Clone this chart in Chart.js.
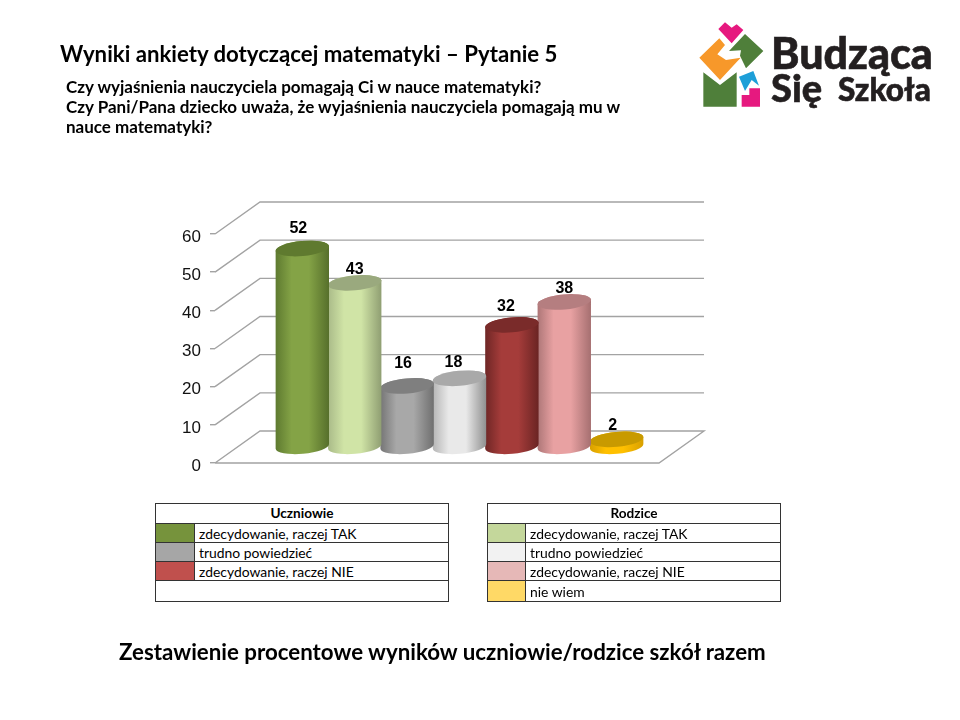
<!DOCTYPE html>
<html lang="pl">
<head>
<meta charset="utf-8">
<title>Wyniki ankiety dotyczącej matematyki</title>
<script src="https://cdn.jsdelivr.net/npm/chart.js@4"></script>
<style>
html,body{margin:0;padding:0;background:#fff;width:960px;height:720px;overflow:hidden;font-family:Lato,"Open Sans",sans-serif;color:#000}
#c{position:absolute;left:0;top:0}
.t{position:absolute;white-space:nowrap;font-weight:700}
#title{left:60px;top:41px;font-size:22.2px;line-height:26px}
#q{left:66px;top:77px;font-size:17px;line-height:20px}
#foot{left:119px;top:637px;font-size:22.3px;line-height:30px}
table{position:absolute;top:503px;width:294px;border-collapse:collapse;table-layout:fixed;font-size:13.9px;background:#fff}
td,th{border:1px solid #333;padding:0;height:18px;line-height:17px;overflow:hidden;white-space:nowrap}
th{font-size:13.6px;font-weight:700;height:19px}
td.l{padding-left:4px}
td.e{height:20px}
#logo{position:absolute;left:690px;top:15px;width:250px;height:100px}
.b{position:absolute;color:#231f20;font-weight:900;white-space:nowrap;font-family:Lato,sans-serif;-webkit-text-stroke:.6px #231f20}
</style>
</head>
<body>
<canvas id="c" width="960" height="720"></canvas>
<div class="t" id="title">Wyniki ankiety dotyczącej matematyki – Pytanie 5</div>
<div class="t" id="q">Czy wyjaśnienia nauczyciela pomagają Ci w nauce matematyki?<br>Czy Pani/Pana dziecko uważa, że wyjaśnienia nauczyciela pomagają mu w<br>nauce matematyki?</div>
<div class="t" id="foot">Zestawienie procentowe wyników uczniowie/rodzice szkół razem</div>

<table style="left:155px">
<colgroup><col style="width:39px"><col></colgroup>
<tr><th colspan="2">Uczniowie</th></tr>
<tr><td style="background:#76933c"></td><td class="l">zdecydowanie, raczej TAK</td></tr>
<tr><td style="background:#a6a6a6"></td><td class="l">trudno powiedzieć</td></tr>
<tr><td style="background:#c0504d"></td><td class="l">zdecydowanie, raczej NIE</td></tr>
<tr><td class="e" colspan="2"></td></tr>
</table>
<table style="left:487px">
<colgroup><col style="width:38px"><col></colgroup>
<tr><th colspan="2">Rodzice</th></tr>
<tr><td style="background:#c4d79b"></td><td class="l">zdecydowanie, raczej TAK</td></tr>
<tr><td style="background:#f2f2f2"></td><td class="l">trudno powiedzieć</td></tr>
<tr><td style="background:#e6b8b7"></td><td class="l">zdecydowanie, raczej NIE</td></tr>
<tr><td class="e" style="background:#ffd966"></td><td class="e l">nie wiem</td></tr>
</table>

<svg id="logo" viewBox="0 0 750 300">
<polygon fill="#e6197f" points="85,42 105,22 125,38 140,28 160,45 125,85"/>
<polygon fill="#4f7f3a" points="117,108 165,57 220,108 168,160 150,122 153,106"/>
<polygon fill="#f7982a" points="28,128 88,70 105,90 82,118 108,135 152,128 90,195"/>
<polygon fill="#4f7f3a" points="40,172 90,210 140,172 140,275 40,275"/>
<polygon fill="#1e9fd8" points="147,185 190,168 207,212 185,195 165,228"/>
<polygon fill="#e6197f" points="155,275 155,240 178,240 178,220 210,220 210,275"/>
</svg>
<div class="b" style="left:771px;top:28px;font-size:43px;line-height:50px">Budząca</div>
<div class="b" style="left:771px;top:66px;font-size:38px;line-height:42px">Się</div>
<div class="b" style="left:838px;top:66px;font-size:31.5px;line-height:42px;padding-top:2px">Szkoła</div>

<script>
const categories = ['Wyniki'];
const seriesNames = ['Uczniowie: zdecydowanie, raczej TAK','Rodzice: zdecydowanie, raczej TAK','Uczniowie: trudno powiedzieć','Rodzice: trudno powiedzieć','Uczniowie: zdecydowanie, raczej NIE','Rodzice: zdecydowanie, raczej NIE','Rodzice: nie wiem'];
const seriesValues = [52, 43, 16, 18, 32, 38, 2];
const yTicks = [0, 10, 20, 30, 40, 50, 60];

const bodyMid  = ['#84a346','#d0e4a6','#a8a8a8','#e9e9e9','#a53c3a','#e8a1a2','#ffc000'];
const bodyLeft = ['#5e7a30','#a9ba88','#757575','#b5b5b5','#6e2625','#ad7677','#d8a000'];
const bodyRight= ['#566f2b','#8f9e72','#6f6f6f','#8f8f8f','#6a2423','#a56f70','#d8a000'];
const topFill  = ['#5f7a2f','#9aa97e','#7f7f7f','#a9a9a9','#7a2b2a','#b57e80','#c89a00'];
const labelNudgeX = [-4, 0, -4, -6, -6, 0, -4];
const labelNudgeY = [-20, -13, -22, -16, -18, -13, -14];

const DEPTH_X = 45, DEPTH_Y = 32, RY = 7.5, TILT = -0.09, GRID = '#a3a3a3';

const walls = {
  id: 'walls',
  beforeDatasetsDraw(chart) {
    const {ctx, scales: {y}, chartArea: a} = chart;
    ctx.save();
    ctx.strokeStyle = GRID; ctx.lineWidth = 1.4;
    yTicks.forEach(v => {
      const p = y.getPixelForValue(v);
      ctx.beginPath();
      ctx.moveTo(a.left, p);
      ctx.lineTo(a.left + DEPTH_X, p - DEPTH_Y);
      ctx.lineTo(a.right + DEPTH_X, p - DEPTH_Y);
      if (v === 0) { ctx.lineTo(a.right, p); ctx.lineTo(a.left, p); }
      ctx.stroke();
    });
    ctx.restore();
  }
};

const cylinders = {
  id: 'cylinders',
  beforeDatasetDraw(chart, args) {
    const i = args.index, bar = chart.getDatasetMeta(i).data[0], ctx = chart.ctx;
    const cx = bar.x + DEPTH_X / 2, topY = bar.y - DEPTH_Y / 2, botY = bar.base - DEPTH_Y / 2;
    const rx = bar.width / 2 + 0.6;
    const g = ctx.createLinearGradient(cx - rx, 0, cx + rx, 0);
    g.addColorStop(0, bodyLeft[i]); g.addColorStop(0.3, bodyMid[i]);
    g.addColorStop(0.62, bodyMid[i]); g.addColorStop(1, bodyRight[i]);
    ctx.save();
    ctx.fillStyle = g;
    ctx.beginPath();
    ctx.ellipse(cx, botY, rx, RY, TILT, 0, Math.PI);
    ctx.ellipse(cx, topY, rx, RY, TILT, Math.PI, Math.PI * 2);
    ctx.closePath(); ctx.fill();
    ctx.fillStyle = topFill[i];
    ctx.beginPath();
    ctx.ellipse(cx, topY, rx, RY, TILT, 0, Math.PI * 2);
    ctx.fill();
    ctx.restore();
    return false;
  },
  afterDatasetsDraw(chart) {
    const ctx = chart.ctx;
    ctx.save();
    ctx.font = 'bold 16px "Liberation Sans"';
    ctx.fillStyle = '#000'; ctx.textAlign = 'center'; ctx.textBaseline = 'middle';
    seriesValues.forEach((v, i) => {
      const bar = chart.getDatasetMeta(i).data[0];
      ctx.fillText(String(v), bar.x + DEPTH_X / 2 + labelNudgeX[i], bar.y - DEPTH_Y / 2 + labelNudgeY[i]);
    });
    ctx.restore();
  }
};

new Chart(document.getElementById('c'), {
  type: 'bar',
  data: {
    labels: categories,
    datasets: seriesValues.map((v, i) => ({ label: seriesNames[i], data: [v], backgroundColor: bodyMid[i] }))
  },
  plugins: [walls, cylinders],
  options: {
    responsive: false, animation: false, devicePixelRatio: 1,
    categoryPercentage: 0.826, barPercentage: 1,
    layout: { padding: { left: 150, right: 301, top: 234, bottom: 257 } },
    plugins: { legend: { display: false }, tooltip: { enabled: false }, title: { display: false } },
    scales: {
      x: { display: false },
      y: {
        min: 0, max: 60,
        afterFit(s) { s.width = 65; },
        afterBuildTicks(s) { s.ticks = yTicks.map(value => ({ value })); },
        border: { display: false },
        grid: { drawOnChartArea: false, drawTicks: true, tickLength: 5, color: GRID, lineWidth: 1.4 },
        ticks: { padding: 9, labelOffset: 3, color: '#111', font: { family: '"Liberation Sans"', size: 17 } }
      }
    }
  }
});
</script>
</body>
</html>
